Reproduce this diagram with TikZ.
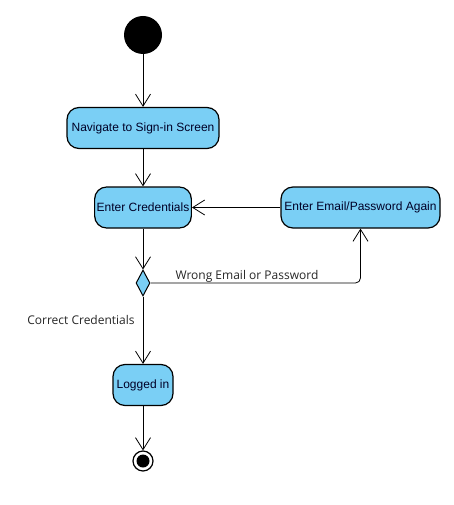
\documentclass[tikz,border=0pt]{standalone}
\usepackage{fontspec}
\setmainfont{Liberation Sans}
\newfontfamily\labelfont{Open Sans}
\usetikzlibrary{arrows.meta,shapes.geometric}
\definecolor{actblue}{RGB}{122,207,245}
\tikzset{
  act/.style={draw=black, fill=actblue, rounded corners=12pt, line width=1.2pt,
    minimum height=41pt, inner sep=2pt, font=\fontsize{12}{14}\selectfont, text=black!85!blue},
  flow/.style={draw=black, line width=0.8pt, -{Straight Barb[length=12pt,width=15pt,line width=0.8pt]}},
  lbl/.style={font=\labelfont\fontsize{12}{14}\selectfont, text=black!85},
}
\begin{document}
\begin{tikzpicture}[x=1pt,y=-1pt]
\useasboundingbox (0,0) rectangle (454,505);
\fill[black] (143,35) circle (19) coordinate (start);
\node[circle, minimum size=38pt, inner sep=0pt] (s) at (143,35) {};
\node[act, minimum width=152pt] (nav) at (143,128) {Navigate to Sign-in Screen};
\node[act, minimum width=94pt] (cred) at (143,207.5) {Enter Credentials};
\node[act, minimum width=159pt] (again) at (360.5,207.5) {Enter Email/Password Again};
\node[diamond, draw=black, fill=actblue, line width=1pt, minimum width=14pt, minimum height=26pt, inner sep=0pt, aspect=0.54] (dec) at (143,283) {};
\node[act, minimum width=60pt, inner sep=1pt] (logged) at (143,385) {Logged in};
\node[circle, draw=black, line width=1.2pt, minimum size=20pt, inner sep=0pt] (end) at (143,461) {};
\fill[black] (end.center) circle (6.5);
\draw[flow] (s) -- (nav);
\draw[flow] (nav) -- (cred);
\draw[flow] (again) -- (cred);
\draw[flow] (cred) -- (dec);
\draw[flow, rounded corners=5pt] (dec.east) -| (again.south);
\node[lbl, anchor=base west] (wrong) at (172,279.5) {Wrong Email or Password};
\draw[flow] (dec) -- (logged);
\node[lbl] (correct) at (81,320) {Correct Credentials};
\draw[flow] (logged) -- (end);
\end{tikzpicture}
\end{document}
